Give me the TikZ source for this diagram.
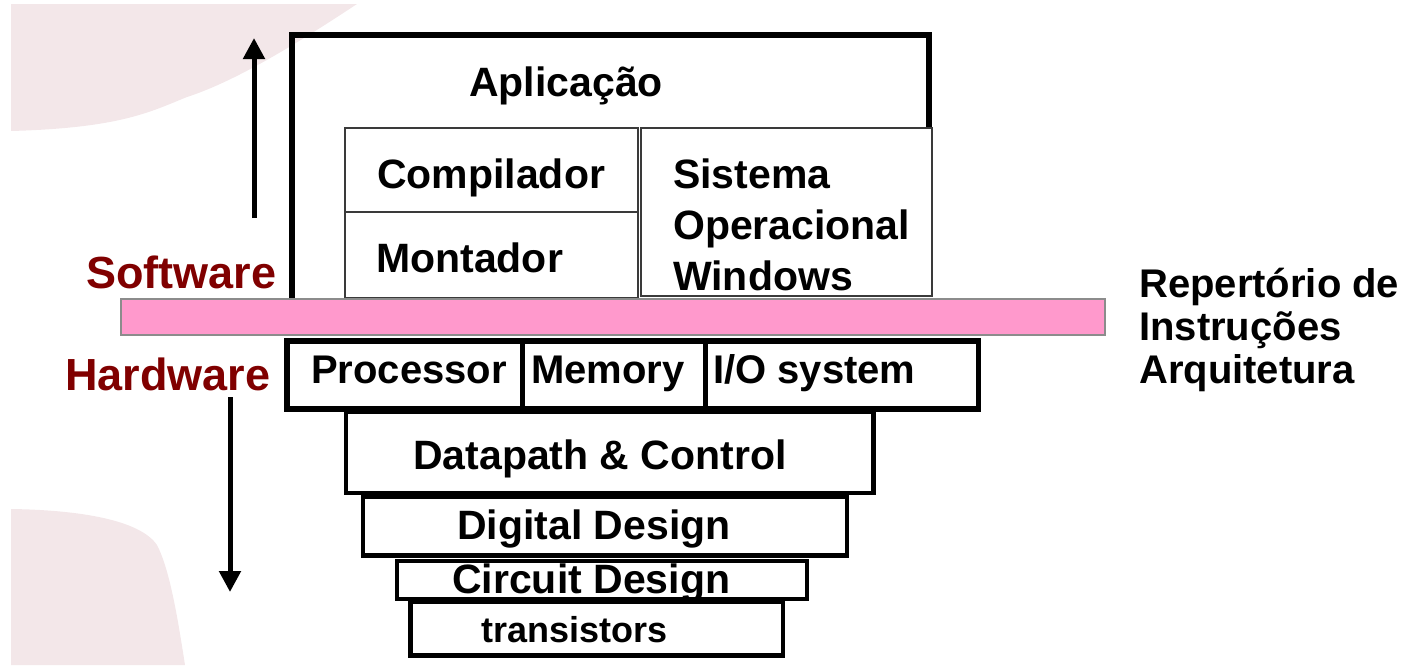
\documentclass[tikz,border=0pt]{standalone}
\usepackage{fontspec}
\setmainfont{Liberation Sans}
\usetikzlibrary{arrows.meta}
\definecolor{bgpink}{HTML}{F3E7E9}
\definecolor{barpink}{HTML}{FF99CC}
\definecolor{bargray}{HTML}{8C8C8C}
\definecolor{swred}{HTML}{800000}
\definecolor{thingray}{HTML}{3A3A3A}
\begin{document}
\begin{tikzpicture}[x=1pt,y=-1pt,
  lbl/.style={anchor=base west, inner sep=0pt, align=left,
    font=\bfseries\fontsize{41}{51}\selectfont},
  hwlbl/.style={lbl, font=\bfseries\fontsize{40}{48}\selectfont},
  isalbl/.style={lbl, font=\bfseries\fontsize{40}{43}\selectfont},
  smalllbl/.style={lbl, font=\bfseries\fontsize{36}{43}\selectfont},
  sidelbl/.style={anchor=base west, inner sep=0pt, text=swred,
    font=\bfseries\fontsize{45}{54}\selectfont},
  layer/.style={draw=black, line width=4.5pt, fill=white},
  hwrow/.style={draw=black, line width=5.5pt, fill=white},
  swbox/.style={draw=thingray, line width=2.2pt},
  appframe/.style={draw=black, line width=6pt, line join=miter},
  isabar/.style={fill=barpink, draw=bargray, line width=1.5pt},
  dirarrow/.style={line width=5pt, -{Triangle[width=21pt,length=21pt]}}
]
\useasboundingbox (0,0) rectangle (1416,665);

% soft background shapes
\fill[bgpink] (11,4) -- (357,4)
  .. controls (310,35) and (240,80) .. (187,97)
  .. controls (150,112) and (120,128) .. (11,131) -- cycle;
\fill[bgpink] (11,509)
  .. controls (80,510) and (140,520) .. (157,545)
  .. controls (170,570) and (178,620) .. (185,665)
  -- (11,665) -- cycle;

% software side
\draw[appframe] (292,299) -- (292,35) -- (928.5,35) -- (928.5,128);
\draw[swbox] (345,128) rectangle (638,298);
\draw[swbox] (345,212) -- (638,212);
\draw[swbox] (641,128) rectangle (932,296);

% instruction set bar
\draw[isabar] (121,299) rectangle (1105,335);

% hardware layers, bottom up
\draw[layer] (410.5,602) rectangle (783,655.5);
\draw[layer] (397,561) rectangle (807,599);
\draw[layer] (363,497) rectangle (847,555.5);
\draw[layer] (346,412) rectangle (873.5,493);
\draw[hwrow] (287,341) rectangle (978.6,409);
\draw[line width=5pt] (522,341) -- (522,414);
\draw[line width=5pt] (705,341) -- (705,414);

% direction arrows
\coordinate (upTail) at (254,218);
\coordinate (upTip) at (254,38);
\coordinate (downTail) at (230,397);
\coordinate (downTip) at (230,592);
\draw[dirarrow] (upTail) -- (upTip);
\draw[dirarrow] (downTail) -- (downTip);

% labels (multi-line nodes are anchored at their last baseline)
\node[lbl] (app) at (469,96) {Aplicação};
\node[lbl] (comp) at (377,188) {Compilador};
\node[lbl] (mont) at (376,272) {Montador};
\node[lbl] (os) at (673,290) {Sistema\\Operacional\\Windows};
\node[sidelbl] (sw) at (86,288) {Software};
\node[sidelbl] (hw) at (65,390) {Hardware};
\node[isalbl] (isa) at (1139,383) {Repertório de\\Instruções\\Arquitetura};
\node[hwlbl] (proc) at (311,383) {Processor};
\node[hwlbl] (mem) at (531,383) {Memory};
\node[hwlbl] (io) at (713,383) {I/O system};
\node[lbl] (dpc) at (413,469) {Datapath \& Control};
\node[lbl] (dig) at (457,539) {Digital Design};
\node[lbl] (circ) at (452,593) {Circuit Design};
\node[smalllbl] (tr) at (481,642) {transistors};
\end{tikzpicture}
\end{document}
